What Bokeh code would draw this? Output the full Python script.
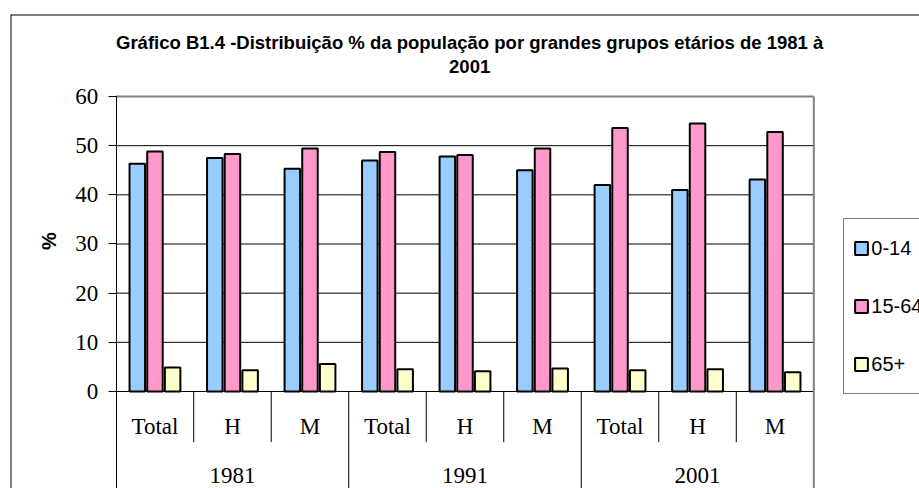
import math
from bokeh.plotting import figure
from bokeh.models import (FactorRange, Range1d, ColumnDataSource, FixedTicker,
                          Legend, LegendItem)
from bokeh.transform import dodge
from bokeh.core.properties import value
from bokeh.embed import file_html
from bokeh.resources import INLINE

# ---------------- data ----------------
years = ["1981", "1991", "2001"]
sexes = ["Total", "H", "M"]
series_names = ["0-14", "15-64", "65+"]
v_0_14 = [46.3, 47.5, 45.3, 47.0, 47.8, 45.0, 42.0, 41.0, 43.1]
v_15_64 = [48.8, 48.3, 49.4, 48.7, 48.1, 49.4, 53.6, 54.5, 52.8]
v_65 = [4.9, 4.3, 5.6, 4.5, 4.1, 4.7, 4.3, 4.5, 3.9]
y_ticks = [0, 10, 20, 30, 40, 50, 60]
title_lines = ["Gráfico B1.4 -Distribuição % da população por grandes grupos etários de 1981 à", "2001"]
y_label = "%"

# ---------------- layout / style ----------------
W, H = 919, 488
FRAME_LEFT, FRAME_TOP = 10, 14
PAD = 1.3637            # category-units of space on each side of the 9 categories
Y_MIN, Y_TOP = -19.729, 76.678
SUB_LABEL_Y = -7.12
YEAR_LABEL_Y = -17.08
INNER_SEP_Y = -10.3
TITLE_X = 4.56
TITLE_Y = [71.04, 66.19]
YLABEL_X, YLABEL_Y = -0.87, 30.57
BAR_W = 0.2
BAR_OFF = [-0.228, 0.0, 0.228]
colors = ["#99CCFF", "#FF99CC", "#FFFFCC"]
SERIF = "Liberation Serif"
SANS = "Liberation Sans"

factors = [(y, s) for y in years for s in sexes]
n = len(factors)
g = len(sexes)

p = figure(width=W, height=H,
           x_range=FactorRange(*factors, range_padding=PAD, range_padding_units="absolute",
                               factor_padding=0, group_padding=0),
           y_range=Range1d(Y_MIN, Y_TOP),
           output_backend="svg", toolbar_location=None, title=None,
           x_axis_location=None,
           min_border_left=FRAME_LEFT, min_border_right=0, min_border_top=FRAME_TOP,
           min_border_bottom=0,
           outline_line_color=None,
           background_fill_color="white", border_fill_color="white")

# y axis, drawn at the left edge of the first category
ya = p.yaxis[0]
ya.fixed_location = 0
ya.bounds = (Y_MIN, y_ticks[-1])
ya.ticker = FixedTicker(ticks=y_ticks)
ya.major_tick_out = 8
ya.major_tick_in = 0
ya.minor_tick_line_color = None
ya.major_tick_line_color = "black"
ya.axis_line_color = "black"
ya.axis_line_width = 1
ya.major_label_text_font = SERIF
ya.major_label_text_font_size = "23px"
ya.major_label_text_color = "black"
ya.major_label_standoff = 10

p.xgrid.visible = False
p.ygrid.visible = False

# outer chart border (top and left edges; the rest lies outside the window)
p.segment(x0=[-PAD, -PAD], y0=[Y_TOP, Y_TOP], x1=[-PAD, n + PAD], y1=[Y_MIN, Y_TOP],
          line_color="black", line_width=2)

# horizontal grid lines (incl. the zero line) across the plot area
grid_y = y_ticks[:-1]
p.segment(x0=[0] * len(grid_y), y0=grid_y, x1=[n] * len(grid_y), y1=grid_y,
          line_color="black", line_width=1)
# plot-area border: top and right (grey)
p.segment(x0=[0, n], y0=[y_ticks[-1], y_ticks[-1]], x1=[n, n], y1=[y_ticks[-1], Y_MIN],
          line_color="#808080", line_width=2)

# category separators
inner = [i for i in range(1, n) if i % g]
groups = [i for i in range(1, n) if i % g == 0]
p.segment(x0=inner, y0=0, x1=inner, y1=INNER_SEP_Y, line_color="black", line_width=1)
p.segment(x0=groups, y0=0, x1=groups, y1=Y_MIN, line_color="black", line_width=1)

# bars
src = ColumnDataSource(dict(x=factors, s0=v_0_14, s1=v_15_64, s2=v_65))
renderers = []
for i, field in enumerate(["s0", "s1", "s2"]):
    r = p.vbar(x=dodge("x", BAR_OFF[i], range=p.x_range), top=field, bottom=0, width=BAR_W,
               source=src, fill_color=colors[i], line_color="black", line_width=2)
    renderers.append(r)

# category labels
sub_src = ColumnDataSource(dict(x=factors, text=[s for _ in years for s in sexes]))
p.text(x="x", y=SUB_LABEL_Y, text="text", source=sub_src, text_align="center",
       text_baseline="middle", text_font=value(SERIF), text_font_size="23px",
       text_color="black")
yr_src = ColumnDataSource(dict(x=years, text=years))
p.text(x="x", y=YEAR_LABEL_Y, text="text", source=yr_src, text_align="center",
       text_baseline="middle", text_font=value(SERIF), text_font_size="23px",
       text_color="black")

# title (two centred lines)
t_src = ColumnDataSource(dict(x=[TITLE_X] * len(title_lines), y=TITLE_Y, text=title_lines))
p.text(x="x", y="y", text="text", source=t_src, text_align="center", text_baseline="middle",
       text_font=value(SANS), text_font_size="18.5px", text_font_style="bold",
       text_color="black")

# y-axis title
p.text(x=[YLABEL_X], y=[YLABEL_Y], text=[y_label], angle=math.pi / 2,
       text_align="center", text_baseline="middle", text_font=value(SANS),
       text_font_size="20px", text_font_style="bold", text_color="black")

# legend
legend = Legend(items=[LegendItem(label=series_names[i], renderers=[renderers[i]]) for i in range(3)],
                location=(833.3, 93.7), orientation="vertical",
                border_line_color="black", border_line_width=1,
                background_fill_color="white", background_fill_alpha=1,
                padding=9, margin=0, spacing=18,
                glyph_width=16, glyph_height=16, label_height=40, label_standoff=2,
                label_text_font=SANS, label_text_font_size="20px", label_text_color="black")
p.add_layout(legend)

open("out.html", "w").write(file_html(p, INLINE))
